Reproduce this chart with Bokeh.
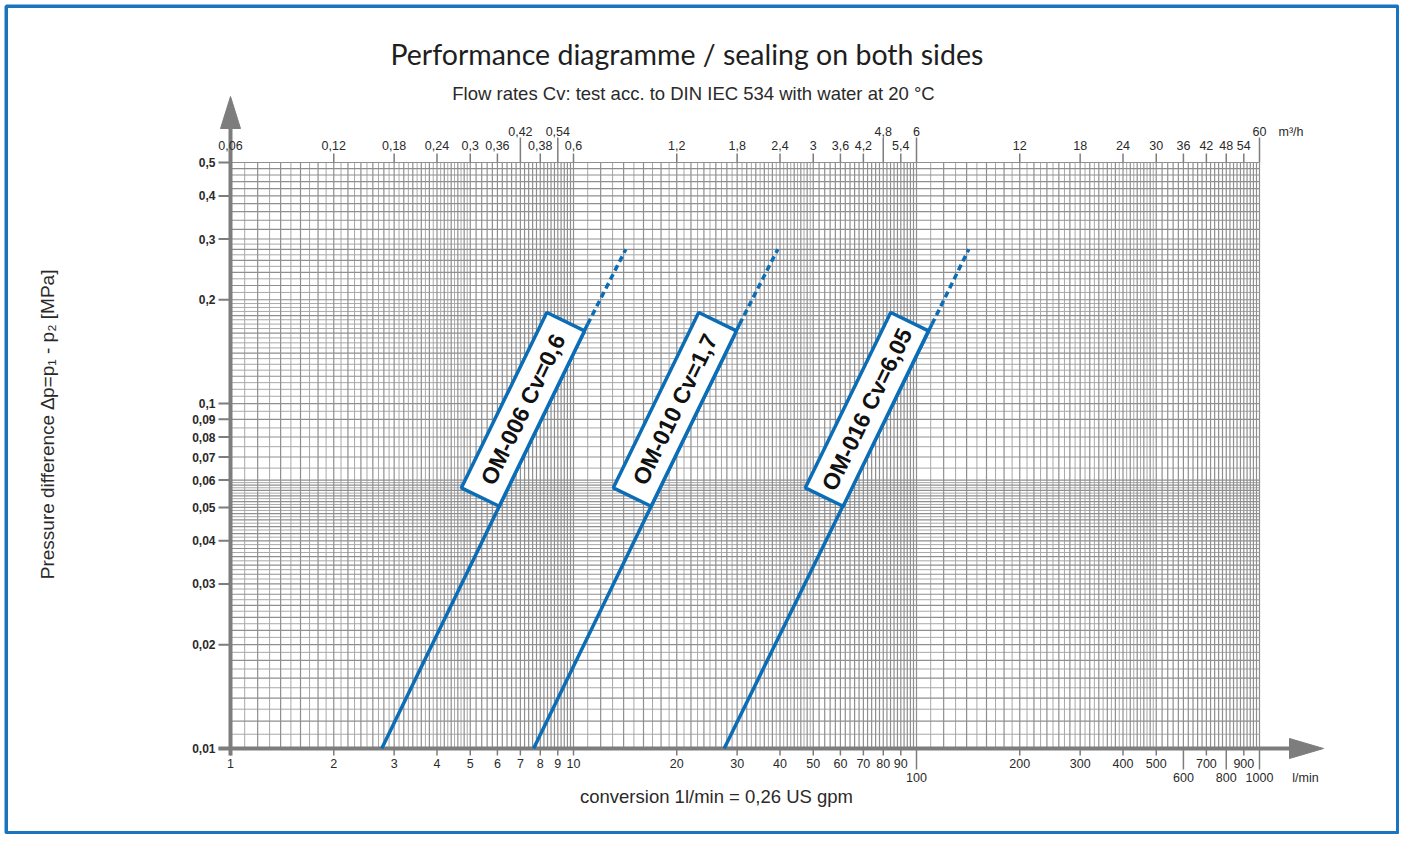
import numpy as np
from bokeh.plotting import figure
from bokeh.models import Range1d
from bokeh.core.properties import value
from bokeh.embed import file_html
from bokeh.resources import INLINE

# ---------------- data ----------------
models = ["OM-006", "OM-010", "OM-016"]
cv_values = ["0,6", "1,7", "6,05"]
dp_start = 0.01                        # MPa, lower end of each line
dp_solid_end = 0.17                    # MPa, end of the solid part
dp_dash_end = 0.28                     # MPa, end of the dashed extension
flow_start = [2.76, 7.65, 27.5]        # l/min at dp_start
flow_solid_end = [11.0, 30.5, 111.0]   # l/min at dp_solid_end
flow_dash_end = [14.2, 39.4, 142.0]    # l/min at dp_dash_end
dp_label = 0.0905                      # MPa, where the label boxes sit

x_ticks = [1, 2, 3, 4, 5, 6, 7, 8, 9, 10, 20, 30, 40, 50, 60, 70, 80, 90,
           100, 200, 300, 400, 500, 600, 700, 800, 900, 1000]
x_tick_labels = ["1", "2", "3", "4", "5", "6", "7", "8", "9", "10",
                 "20", "30", "40", "50", "60", "70", "80", "90",
                 "100", "200", "300", "400", "500", "600", "700", "800", "900", "1000"]
x_low_labels = ["100", "600", "800", "1000"]
top_tick_labels = ["0,06", "0,12", "0,18", "0,24", "0,3", "0,36", "0,42", "0,38", "0,54", "0,6",
                   "1,2", "1,8", "2,4", "3", "3,6", "4,2", "4,8", "5,4", "6",
                   "12", "18", "24", "30", "36", "42", "48", "54", "60"]
top_raised = ["0,42", "0,54", "4,8", "6", "60"]
y_ticks = [0.01, 0.02, 0.03, 0.04, 0.05, 0.06, 0.07, 0.08, 0.09, 0.1, 0.2, 0.3, 0.4, 0.5]
y_tick_labels = ["0,01", "0,02", "0,03", "0,04", "0,05", "0,06", "0,07", "0,08", "0,09",
                 "0,1", "0,2", "0,3", "0,4", "0,5"]

# ---------------- layout ----------------
W, H = 1399, 834
XL, XR = 230, 1259       # canvas px of x=1 and x=1000
YB, YT = 748, 162        # canvas px (from top) of y=0.01 and y=0.5
ppd_x = (XR - XL) / 3.0
ppd_y = (YB - YT) / np.log10(0.5 / 0.01)
lx0 = -XL / ppd_x
lx1 = lx0 + W / ppd_x
ly_top = np.log10(0.5) + YT / ppd_y
ly_bot = ly_top - H / ppd_y


def dx(px):
    return 10 ** (lx0 + px / ppd_x)


def dy(py):
    return 10 ** (ly_top - py / ppd_y)


BLUE = "#0b6db6"
FRAME_BLUE = "#1a74bf"
AX = "#7d7d7d"
GRID = "#8f8f8f"
GRID_LIGHT = "#a8a8a8"
TXT = "#2a2a2a"
SANS = value("Liberation Sans")

p = figure(width=W, height=H, x_axis_type="log", y_axis_type="log",
           x_range=Range1d(10 ** lx0, 10 ** lx1), y_range=Range1d(10 ** ly_bot, 10 ** ly_top),
           x_axis_location=None, y_axis_location=None,
           toolbar_location=None, output_backend="svg", min_border=0)
p.grid.visible = False
p.background_fill_color = "white"
p.border_fill_color = "white"
p.outline_line_color = None

# outer blue frame
p.rect(x=[dx(701.5)], y=[dy(419)], width=1391.5, height=826.5, width_units="screen",
       height_units="screen", fill_color=None, line_color=FRAME_BLUE, line_width=3.5)


# ---------------- grid ----------------
def mantissas(spec):
    out = []
    for a, b, s in spec:
        out += list(np.arange(a, b - 1e-9, s))
    return out


def split(vals, decade_of):
    dark, light = [], []
    for v in vals:
        m = v / decade_of(v)
        (dark if abs(m * 5 - round(m * 5)) < 1e-6 else light).append(v)
    return dark, light


x_spec = [(1, 2, 0.1), (2, 5, 0.1), (5, 10, 0.2)]
gx = [m * 10 ** k for k in range(3) for m in mantissas(x_spec)] + [1000.0]
y_spec1 = [(1, 6, 0.1), (6, 10, 0.5)]
y_spec2 = [(1, 2, 0.05), (2, 3, 0.1), (3, 5, 0.2)]
gy = [m * 0.01 for m in mantissas(y_spec1)] + [m * 0.1 for m in mantissas(y_spec2)] + [0.5]

dec = lambda v: 10 ** np.floor(np.log10(v) + 1e-9)
gx_d, gx_l = split(gx, dec)
gy_d, gy_l = split(gy, dec)
p.segment(x0=gx_l, y0=0.01, x1=gx_l, y1=0.5, line_color=GRID_LIGHT, line_width=1)
p.segment(x0=1, y0=gy_l, x1=1000, y1=gy_l, line_color=GRID_LIGHT, line_width=1)
p.segment(x0=gx_d, y0=0.01, x1=gx_d, y1=0.5, line_color=GRID, line_width=1.2)
p.segment(x0=1, y0=gy_d, x1=1000, y1=gy_d, line_color=GRID, line_width=1.2)

# ---------------- axes ----------------
# left axis with arrow
p.segment(x0=1, y0=dy(755), x1=1, y1=dy(126), line_color=AX, line_width=4)
p.patch(x=[dx(220), dx(240), 1], y=[dy(128), dy(128), dy(96)], fill_color=AX, line_color=AX)
# bottom axis with arrow
p.segment(x0=dx(218), y0=0.01, x1=dx(1292), y1=0.01, line_color=AX, line_width=4)
p.patch(x=[dx(1289), dx(1289), dx(1323)], y=[dy(738), dy(758), 0.01], fill_color=AX, line_color=AX)

# left ticks + labels
p.segment(x0=dx(218), y0=y_ticks, x1=1, y1=y_ticks, line_color=AX, line_width=2)
p.text(x=dx(215), y=y_ticks, text=y_tick_labels, text_align="right", text_baseline="middle",
       text_font=SANS, text_font_size="12px", text_font_style="bold", text_color=TXT)

# bottom ticks + labels
low = [lab in x_low_labels for lab in x_tick_labels]
p.segment(x0=x_ticks, y0=0.01, x1=x_ticks, y1=[dy(769) if l else dy(755) for l in low],
          line_color=AX, line_width=1.5)
p.text(x=x_ticks, y=[dy(777) if l else dy(763) for l in low], text=x_tick_labels,
       text_align="center", text_baseline="middle", text_font=SANS, text_font_size="12.5px",
       text_color=TXT)
p.text(x=[dx(1305)], y=[dy(777)], text=["l/min"], text_align="center", text_baseline="middle",
       text_font=SANS, text_font_size="12.5px", text_color=TXT)

# top ticks + labels (m3/h)
raised = [lab in top_raised for lab in top_tick_labels]
p.segment(x0=x_ticks, y0=0.5, x1=x_ticks, y1=[dy(137) if r else dy(153) for r in raised],
          line_color=AX, line_width=1.5)
p.text(x=x_ticks, y=[dy(131) if r else dy(145) for r in raised], text=top_tick_labels,
       text_align="center", text_baseline="middle", text_font=SANS, text_font_size="12.5px",
       text_color=TXT)
p.text(x=[dx(1278)], y=[dy(131)], text=["m³/h"], text_align="left", text_baseline="middle",
       text_font=SANS, text_font_size="12.5px", text_color=TXT)

# ---------------- titles ----------------
p.text(x=[dx(690)], y=[dy(53)], text=["Performance diagramme  / sealing on both sides"],
       text_align="center", text_baseline="middle", text_font=value("Lato"),
       text_font_size="28.5px", text_color="#1e1e1e")
p.text(x=[dx(693)], y=[dy(93)], text=["Flow rates Cv: test acc. to DIN IEC 534 with water at 20 °C"],
       text_align="center", text_baseline="middle", text_font=SANS,
       text_font_size="18.5px", text_color=TXT)
p.text(x=[dx(716)], y=[dy(796)], text=["conversion 1l/min = 0,26 US gpm"],
       text_align="center", text_baseline="middle", text_font=SANS,
       text_font_size="18.5px", text_color=TXT)
p.text(x=[dx(47)], y=[dy(416)], text=["Pressure difference    ∆p=p₁ - p₂ [MPa]"], angle=np.pi / 2,
       text_align="center", text_baseline="middle", text_font=SANS,
       text_font_size="19px", text_color=TXT)

# ---------------- characteristic lines ----------------
p.multi_line(xs=[[a, b] for a, b in zip(flow_start, flow_solid_end)],
             ys=[[dp_start, dp_solid_end]] * len(models), line_color=BLUE, line_width=3.5)
p.multi_line(xs=[[a, b] for a, b in zip(flow_solid_end, flow_dash_end)],
             ys=[[dp_solid_end, dp_dash_end]] * len(models), line_color=BLUE, line_width=3.5,
             line_dash="6 4")

# label boxes along the lines
theta = float(np.mean([np.arctan2(ppd_y * np.log10(dp_solid_end / dp_start),
                                  ppd_x * np.log10(b / a))
                       for a, b in zip(flow_start, flow_solid_end)]))
t = np.log10(dp_label / dp_start) / np.log10(dp_solid_end / dp_start)
off = 21.0
lab_x, lab_y = [], []
for a, b in zip(flow_start, flow_solid_end):
    q_on = 10 ** (np.log10(a) + t * (np.log10(b) - np.log10(a)))
    lab_x.append(q_on * 10 ** (-off * np.sin(theta) / ppd_x))
    lab_y.append(dp_label * 10 ** (off * np.cos(theta) / ppd_y))
labels = [f"{m} Cv={c}" for m, c in zip(models, cv_values)]
p.rect(x=lab_x, y=lab_y, width=195, height=42, angle=theta, width_units="screen",
       height_units="screen", fill_color="white", line_color=BLUE, line_width=3.5)
p.text(x=lab_x, y=lab_y, text=labels, angle=theta, text_align="center", text_baseline="middle",
       text_font=SANS, text_font_size="23px", text_font_style="bold", text_color="#111111")

open("out.html", "w").write(file_html(p, INLINE))
